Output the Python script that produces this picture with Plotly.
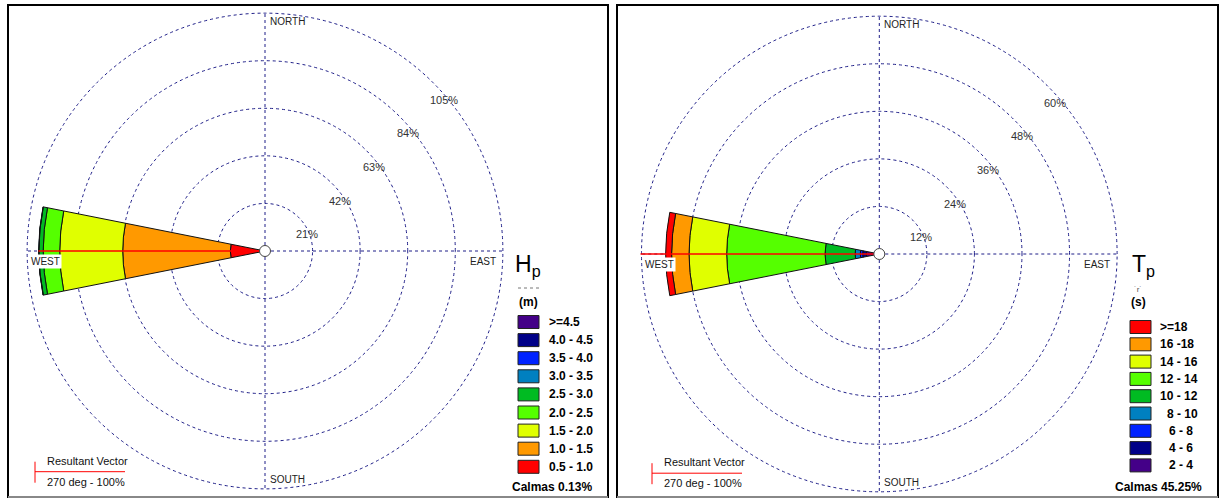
import math
import plotly.graph_objects as go

W, H = 1222, 499
FONT = "Liberation Sans, Arial, sans-serif"

# ---------------- data ----------------
direction = 270  # West (compass degrees)
sector_width = 22.5

hp_bins = ["0.5 - 1.0", "1.0 - 1.5", "1.5 - 2.0", "2.0 - 2.5", "2.5 - 3.0",
           "3.0 - 3.5", "3.5 - 4.0", "4.0 - 4.5", ">=4.5"]
hp_values = [15.3, 47.5, 27.8, 7.3, 1.9, 0.1, 0.0, 0.0, 0.0]
hp_colors = ["#FF0000", "#FF9900", "#E0FF00", "#55FF00", "#00BB22",
             "#0080C0", "#0022FF", "#000088", "#440088"]
hp_rings = [21, 42, 63, 84, 105]
hp_calm = "Calmas 0.13%"

tp_bins = ["2 - 4", "4 - 6", "6 - 8", "8 - 10", "10 - 12", "12 - 14",
           "14 - 16", "16 -18", ">=18"]
tp_values = [3.3, 0.9, 0.6, 1.3, 7.6, 24.8, 9.5, 4.4, 1.5]
tp_colors = ["#440088", "#000088", "#0022FF", "#0080C0", "#00BB22",
             "#55FF00", "#E0FF00", "#FF9900", "#FF0000"]
tp_rings = [12, 24, 36, 48, 60]
tp_calm = "Calmas 45.25%"

resultant_text = ["Resultant Vector", "270 deg - 100%"]
resultant_pct = 100
compass = {"NORTH": 0, "EAST": 90, "SOUTH": 180, "WEST": 270}

# ---------------- layout geometry (pixels) ----------------
R = 239
panels = [
    dict(name="polar", cx=265.0, cy=251.0, box=(8, 5, 608, 497),
         bins=hp_bins, values=hp_values, colors=hp_colors, rings=hp_rings,
         rmax=105.5, title="H<sub>p</sub>", unit="<b>(m)</b>", calm=hp_calm,
         leg_x=518, leg_y0=322, leg_dy=18.1, txt_dx=29, title_dx=-5,
         key_x=35, tp=False),
    dict(name="polar2", cx=879.3, cy=254.0, box=(617, 5, 1218, 497),
         bins=tp_bins, values=tp_values, colors=tp_colors, rings=tp_rings,
         rmax=60.3, title="T<sub>p</sub>", unit="<b>(s)</b>", calm=tp_calm,
         leg_x=1130, leg_y0=327, leg_dy=17.3, txt_dx=28, title_dx=0,
         key_x=652, tp=True),
]


def fx(x):
    return x / W


def fy(y):
    return 1 - y / H


fig = go.Figure()
shapes = []
annotations = []
GRID = "#1E1E88"
DASH = "3px,3px"

for p in panels:
    sub = p["name"]
    # stacked wedge
    for b, v, c in zip(p["bins"], p["values"], p["colors"]):
        if v <= 0:
            continue
        fig.add_trace(go.Barpolar(
            r=[v], theta=[direction], width=[sector_width], name=b,
            marker=dict(color=c, line=dict(color="#111111", width=1)),
            subplot=sub, showlegend=False, hoverinfo="name+r"))
    # resultant vector line
    fig.add_trace(go.Scatterpolar(
        r=[0, resultant_pct], theta=[direction, direction], mode="lines",
        line=dict(color="#FF0000", width=1.5), subplot=sub,
        showlegend=False, hoverinfo="skip"))
    # centre circle
    fig.add_trace(go.Scatterpolar(
        r=[0], theta=[0], mode="markers",
        marker=dict(size=11, color="white", line=dict(color="#444444", width=1)),
        subplot=sub, showlegend=False, hoverinfo="skip"))

    cx, cy = p["cx"], p["cy"]
    polar_layout = dict(
        domain=dict(x=[fx(cx - R), fx(cx + R)], y=[fy(cy + R), fy(cy - R)]),
        bgcolor="white",
        barmode="stack",
        radialaxis=dict(range=[0, p["rmax"]], tickvals=p["rings"],
                        showticklabels=False, showline=False, ticks="",
                        gridcolor=GRID, griddash=DASH, gridwidth=1),
        angularaxis=dict(rotation=90, direction="clockwise",
                         tickvals=list(compass.values()), showticklabels=False,
                         ticks="", showline=False,
                         gridcolor=GRID, griddash=DASH, gridwidth=1),
    )
    fig.update_layout(**{sub: polar_layout})

    # ring labels, placed along the 45 degree (NE) direction
    scale = R / p["rmax"]
    for v in p["rings"]:
        rp = v * scale
        annotations.append(dict(
            text=f"{v}%", x=fx(cx + rp * math.cos(math.pi / 4) - 5),
            y=fy(cy - rp * math.sin(math.pi / 4) + 17),
            xanchor="left", yanchor="middle", showarrow=False,
            xref="paper", yref="paper",
            font=dict(family=FONT, size=11, color="#333333")))

    # panel frame
    x0, y0, x1, y1 = p["box"]
    shapes.append(dict(type="rect", xref="paper", yref="paper",
                       x0=fx(x0), x1=fx(x1), y0=fy(y1), y1=fy(y0),
                       line=dict(color="#000000", width=2)))
    shapes.append(dict(type="line", xref="paper", yref="paper",
                       x0=fx(x0), x1=fx(x1), y0=fy(y1), y1=fy(y1),
                       line=dict(color="#888888", width=2)))

    # direction labels
    dl = dict(font=dict(family=FONT, size=10, color="#222222"), showarrow=False,
              xref="paper", yref="paper")
    annotations.append(dict(text="NORTH", x=fx(cx + 3), y=fy(cy - 230),
                            xanchor="left", yanchor="middle", **dl))
    annotations.append(dict(text="SOUTH", x=fx(cx + 3), y=fy(cy + 228),
                            xanchor="left", yanchor="middle", **dl))
    annotations.append(dict(text="EAST", x=fx(cx + 233), y=fy(cy + 10),
                            xanchor="right", yanchor="middle", **dl))
    annotations.append(dict(text="WEST", x=fx(cx - 220), y=fy(cy + 10),
                            xanchor="center", yanchor="middle",
                            bgcolor="white", **dl))

    # legend title
    lx = p["leg_x"]
    annotations.append(dict(text=p["title"], x=fx(lx + p["title_dx"]), y=fy(265),
                            xanchor="left", yanchor="middle", showarrow=False,
                            xref="paper", yref="paper",
                            font=dict(family=FONT, size=23, color="#000000")))
    if not p["tp"]:
        shapes.append(dict(type="line", xref="paper", yref="paper",
                           x0=fx(lx), x1=fx(lx + 24), y0=fy(288), y1=fy(288),
                           line=dict(color="#777777", width=1, dash="dot")))
    else:
        annotations.append(dict(text="\u02d9r\u02d9", x=fx(lx + 8), y=fy(289),
                                xanchor="center", yanchor="middle", showarrow=False,
                                xref="paper", yref="paper",
                                font=dict(family=FONT, size=8, color="#555555")))
    annotations.append(dict(text=p["unit"], x=fx(lx - 1), y=fy(302),
                            xanchor="left", yanchor="middle", showarrow=False,
                            xref="paper", yref="paper",
                            font=dict(family=FONT, size=12, color="#000000")))
    # legend rows (top = highest bin)
    rows = list(zip(p["bins"], p["colors"]))[::-1]
    for i, (b, c) in enumerate(rows):
        yc = p["leg_y0"] + i * p["leg_dy"]
        shapes.append(dict(type="rect", xref="paper", yref="paper",
                           x0=fx(lx), x1=fx(lx + 21), y0=fy(yc + 6.5), y1=fy(yc - 6.5),
                           fillcolor=c, line=dict(color="#222222", width=1)))
        tx = lx + p["txt_dx"]
        if p["tp"] and b[0].isdigit() and b[1] == " ":
            tx += 7 if len(b) == 6 else 9
        annotations.append(dict(text=f"<b>{b}</b>", x=fx(tx), y=fy(yc),
                                xanchor="left", yanchor="middle", showarrow=False,
                                xref="paper", yref="paper",
                                font=dict(family=FONT, size=12, color="#000000")))
    annotations.append(dict(text=f"<b>{p['calm']}</b>", x=fx(x1 - 14), y=fy(487),
                            xanchor="right", yanchor="middle", showarrow=False,
                            xref="paper", yref="paper",
                            font=dict(family=FONT, size=12, color="#000000")))

    # resultant vector key
    kx = p["key_x"]
    ky = 471.7 + (cy - 251) * 0.5
    shapes.append(dict(type="line", xref="paper", yref="paper",
                       x0=fx(kx), x1=fx(kx), y0=fy(ky - 10), y1=fy(ky + 11),
                       line=dict(color="#FF0000", width=1)))
    shapes.append(dict(type="line", xref="paper", yref="paper",
                       x0=fx(kx), x1=fx(kx + 90), y0=fy(ky), y1=fy(ky),
                       line=dict(color="#FF0000", width=1)))
    annotations.append(dict(text=resultant_text[0], x=fx(kx + 10), y=fy(ky - 11),
                            xanchor="left", yanchor="middle", showarrow=False,
                            xref="paper", yref="paper",
                            font=dict(family=FONT, size=11, color="#111111")))
    annotations.append(dict(text=resultant_text[1], x=fx(kx + 10), y=fy(ky + 10),
                            xanchor="left", yanchor="middle", showarrow=False,
                            xref="paper", yref="paper",
                            font=dict(family=FONT, size=11, color="#111111")))

fig.update_layout(width=W, height=H, margin=dict(l=0, r=0, t=0, b=0),
                  paper_bgcolor="white", showlegend=False,
                  shapes=shapes, annotations=annotations)

fig.write_html("out.html", config={"displayModeBar": False},
               post_script="document.body.style.margin='0';document.body.style.overflow='hidden';")
